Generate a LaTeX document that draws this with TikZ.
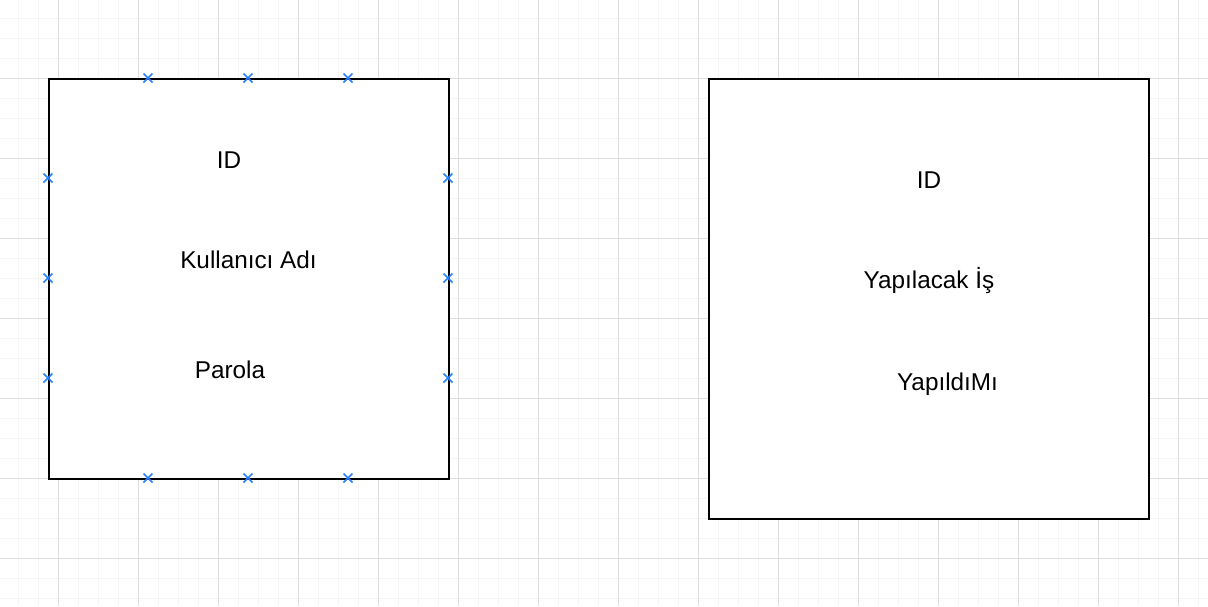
\documentclass[tikz,border=0pt]{standalone}
\usepackage{fontspec}
\setmainfont{Liberation Sans}
\begin{document}
\begin{tikzpicture}[x=1pt,y=-1pt,
  minorgrid/.style={draw=black!4,line width=1pt},
  majorgrid/.style={draw=black!13,line width=1pt},
  entity/.style={draw=black,fill=white,line width=2pt,inner sep=0pt,anchor=north west},
  field/.style={anchor=base,inner sep=0pt,font=\fontsize{24.3}{29}\selectfont},
  xmark/.style={draw={rgb,255:red,40;green,128;blue,255},line width=1.6pt}]
\fill[white] (0,0) rectangle (1208,606);
\useasboundingbox (0,0) rectangle (1208,606);
% grid
\foreach \i in {0,...,59} {\draw[minorgrid] (18+20*\i,0) -- (18+20*\i,606);}
\foreach \i in {0,...,29} {\draw[minorgrid] (0,18+20*\i) -- (1208,18+20*\i);}
\foreach \i in {0,...,14} {\draw[majorgrid] (58+80*\i,0) -- (58+80*\i,606);}
\foreach \i in {0,...,6} {\draw[majorgrid] (0,78+80*\i) -- (1208,78+80*\i);}
% entities
\node[entity,minimum width=400pt,minimum height=400pt] (users) at (48,78) {};
\node[entity,minimum width=440pt,minimum height=440pt] (todos) at (708,78) {};
% fields
\node[field] (uid) at (229,168) {ID};
\node[field] (uname) at (248.5,268) {Kullanıcı Adı};
\node[field] (upass) at (230,378) {Parola};
\node[field] (tid) at (929,188) {ID};
\node[field] (ttask) at (929,288) {Yapılacak İş};
\node[field] (tdone) at (947.5,390) {YapıldıMı};
% connection marks
\foreach \x in {148,248,348} {
  \foreach \y in {78,478} {
    \draw[xmark] (\x-4.5,\y-4.5) -- (\x+4.5,\y+4.5) (\x-4.5,\y+4.5) -- (\x+4.5,\y-4.5);
  }
}
\foreach \y in {178,278,378} {
  \foreach \x in {48,448} {
    \draw[xmark] (\x-4.5,\y-4.5) -- (\x+4.5,\y+4.5) (\x-4.5,\y+4.5) -- (\x+4.5,\y-4.5);
  }
}
\end{tikzpicture}
\end{document}
